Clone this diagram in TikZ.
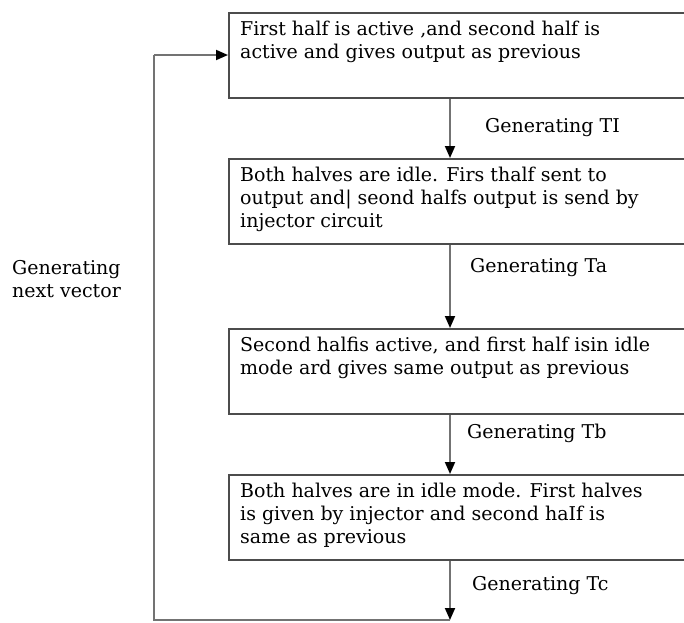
\documentclass[tikz,border=0pt]{standalone}
\usepackage{fontspec}
\setmainfont{DejaVu Serif}
\usetikzlibrary{arrows.meta}

\begin{document}
\begin{tikzpicture}[x=1pt, y=-1pt,
    box/.style={draw=black!70, line width=1.8pt, minimum width=480pt, minimum height=85pt, anchor=north west, inner sep=0pt},
    boxtext/.style={anchor=north west, align=left, font=\fontsize{19}{23}\selectfont, inner sep=0pt, xshift=12pt, yshift=-9pt},
    lbl/.style={anchor=west, align=left, font=\fontsize{19}{23}\selectfont, inner sep=0pt},
    flow/.style={draw=black!55, line width=1.8pt, -{Triangle[black, width=10pt, length=12pt]}},
    back/.style={draw=black!55, line width=1.8pt}
]
\clip (0,0) rectangle (684,622);

% Define boxes
\node[box] (b1) at (228,12) {};
\node[box] (b2) at (228,158) {};
\node[box] (b3) at (228,328) {};
\node[box] (b4) at (228,474) {};

% Box texts
\node[boxtext] (t1) at (b1.north west) {First half is active ,and second half is\\active and gives output as previous};
\node[boxtext] (t2) at (b2.north west) {Both halves are idle. Firs thalf sent to\\output and| seond halfs output is send by\\injector circuit};
\node[boxtext] (t3) at (b3.north west) {Second halfis active, and first half isin idle\\mode ard gives same output as previous};
\node[boxtext] (t4) at (b4.north west) {Both halves are in idle mode. First halves\\is given by injector and second haIf is\\same as previous};

% Labels
\node[lbl] (l1) at (485,128) {Generating TI};
\node[lbl] (l2) at (470,268) {Generating Ta};
\node[lbl] (l3) at (467,433) {Generating Tb};
\node[lbl] (l4) at (472,586) {Generating Tc};
\node[lbl] (l5) at (12,279) {Generating\\next vector};

% Define edges
\coordinate (c4) at (450,620);
\coordinate (c5) at (154,620);
\coordinate (c6) at (154,55);
\draw[flow] ([xshift=222pt]b1.south west) -- ([xshift=222pt]b2.north west);
\draw[flow] ([xshift=222pt]b2.south west) -- ([xshift=222pt]b3.north west);
\draw[flow] ([xshift=222pt]b3.south west) -- ([xshift=222pt]b4.north west);
\draw[flow] ([xshift=222pt]b4.south west) -- (c4);
\draw[back] (c4) -- (c5) -- (c6);
\draw[flow] (c6) -- (c6 -| b1.west);

\end{tikzpicture}
\end{document}
